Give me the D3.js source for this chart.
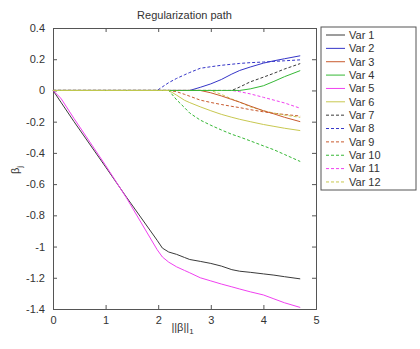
<!DOCTYPE html>
<html>
<head>
<meta charset="utf-8">
<script src="https://cdn.jsdelivr.net/npm/d3@7"></script>
<style>
  body { margin: 0; background: #fff; }
  text { font-family: "Liberation Sans", Arial, sans-serif; fill: #333; }
</style>
</head>
<body>
<div id="chart"></div>
<script>
// Lasso regularization path, coefficients vs ||beta||_1

// ==========================================================
// Data
var knots = [0, 0.15, 0.4, 1.0, 1.4, 1.98, 2.08, 2.2, 2.35, 2.5, 2.6, 2.8, 3.0, 3.2, 3.4, 3.55, 3.75, 4.0, 4.2, 4.4, 4.7];

var var1  = [0, -0.075, -0.2, -0.49, -0.685, -0.96, -1.01, -1.035, -1.05, -1.07, -1.083, -1.095, -1.108, -1.125, -1.148, -1.158, -1.165, -1.175, -1.183, -1.193, -1.207];
var var2  = [0, 0, 0, 0, 0, 0, 0, 0, 0, 0, 0, 0.02, 0.042, 0.07, 0.105, 0.128, 0.15, 0.175, 0.19, 0.203, 0.222];
var var3  = [0, 0, 0, 0, 0, 0, 0, 0, 0, 0, 0, 0, -0.015, -0.035, -0.058, -0.075, -0.1, -0.13, -0.15, -0.172, -0.2];
var var4  = [0, 0, 0, 0, 0, 0, 0, 0, 0, 0, 0, 0, 0, 0, 0, 0, 0.01, 0.03, 0.058, 0.088, 0.127];
var var5  = [0, -0.05, -0.18, -0.48, -0.69, -1.02, -1.067, -1.10, -1.13, -1.153, -1.168, -1.2, -1.22, -1.24, -1.258, -1.272, -1.29, -1.31, -1.335, -1.36, -1.39];
var var6  = [0, 0, 0, 0, 0, 0, 0, 0, -0.03, -0.063, -0.078, -0.105, -0.13, -0.153, -0.172, -0.185, -0.2, -0.218, -0.23, -0.242, -0.257];
var var7  = [0, 0, 0, 0, 0, 0, 0, 0, 0, 0, 0, 0, 0, 0, 0, 0.022, 0.055, 0.085, 0.11, 0.137, 0.172];
var var8  = [0, 0, 0, 0, 0, 0, 0.023, 0.05, 0.077, 0.1, 0.115, 0.142, 0.152, 0.161, 0.168, 0.173, 0.178, 0.182, 0.186, 0.19, 0.196];
var var9  = [0, 0, 0, 0, 0, 0, 0, 0, -0.008, -0.025, -0.037, -0.062, -0.077, -0.09, -0.102, -0.11, -0.123, -0.137, -0.146, -0.154, -0.164];
var var10 = [0, 0, 0, 0, 0, 0, 0, 0, -0.06, -0.11, -0.145, -0.19, -0.223, -0.253, -0.281, -0.298, -0.323, -0.355, -0.38, -0.41, -0.455];
var var11 = [0, 0, 0, 0, 0, 0, 0, 0, 0, 0, 0, 0, 0, 0, 0, -0.008, -0.022, -0.044, -0.062, -0.08, -0.114];
var var12 = [0, 0, 0, 0, 0, 0, 0, 0, 0, 0, 0, 0, 0, -0.025, -0.055, -0.075, -0.105, -0.13, -0.145, -0.158, -0.172];

var seriesNames = ["Var 1", "Var 2", "Var 3", "Var 4", "Var 5", "Var 6", "Var 7", "Var 8", "Var 9", "Var 10", "Var 11", "Var 12"];
var seriesValues = [var1, var2, var3, var4, var5, var6, var7, var8, var9, var10, var11, var12];

var xTicks = [0, 1, 2, 3, 4, 5];
var yTicks = [0.4, 0.2, 0, -0.2, -0.4, -0.6, -0.8, -1, -1.2, -1.4];

// colours cycle like matlab, first six solid then six dashed
var palette = ["#3a3a3a", "#3535c8", "#c85a2e", "#35b835", "#f040f0", "#c8c850"];

// ==========================================================
// Set margins
var svgWidth = 420;
var svgHeight = 349;

var margin = { top: 28, left: 53 };
var width = 263;
var height = 281;

var svg = d3.select("#chart")
  .append("svg")
  .attr("width", svgWidth)
  .attr("height", svgHeight);

var chartGroup = svg.append("g")
  .attr("transform", `translate(${margin.left}, ${margin.top})`);

// scales
var xScale = d3.scaleLinear().domain([0, 5]).range([0, width]);
var yScale = d3.scaleLinear().domain([-1.4, 0.4]).range([height, 0]);

// ===========================================================
// axes with inward ticks on all four sides
var tickFmt = function(d) { return String(+d.toFixed(1)); };

chartGroup.append("g")
  .attr("transform", `translate(0, ${height})`)
  .call(d3.axisBottom(xScale).tickValues(xTicks).tickSize(-4).tickPadding(7).tickFormat(tickFmt));
chartGroup.append("g")
  .call(d3.axisLeft(yScale).tickValues(yTicks).tickSize(-4).tickPadding(8).tickFormat(tickFmt));
chartGroup.append("g")
  .call(d3.axisTop(xScale).tickValues(xTicks).tickSize(-4).tickFormat(""));
chartGroup.append("g")
  .attr("transform", `translate(${width}, 0)`)
  .call(d3.axisRight(yScale).tickValues(yTicks).tickSize(-4).tickFormat(""));

chartGroup.selectAll(".domain").attr("stroke", "#555");
chartGroup.selectAll(".tick line").attr("stroke", "#555");
chartGroup.selectAll(".tick text")
  .style("font-size", "11px")
  .style("fill", "#333");

// ===========================================================
// path lines (dashed ones first so the solid yellow sits on top along zero)
var line = d3.line()
  .x((d, i) => xScale(knots[i]))
  .y(d => yScale(d));

var drawOrder = [6, 7, 8, 9, 10, 11, 0, 1, 2, 3, 4, 5];

chartGroup.selectAll(".path-line")
  .data(drawOrder)
  .enter()
  .append("path")
  .attr("class", "path-line")
  .attr("d", k => line(seriesValues[k]))
  .attr("fill", "none")
  .attr("stroke", k => palette[k % 6])
  .attr("stroke-width", 1)
  .attr("stroke-dasharray", k => k >= 6 ? "3,2" : null);

// ===========================================================
// title and axis labels
svg.append("text")
  .attr("x", margin.left + width / 2)
  .attr("y", 19)
  .attr("text-anchor", "middle")
  .style("font-size", "11px")
  .text("Regularization path");

var xLabel = svg.append("text")
  .attr("x", margin.left + width / 2 - 2)
  .attr("y", 331)
  .attr("text-anchor", "middle")
  .style("font-size", "11px");
xLabel.append("tspan").text("||β||");
xLabel.append("tspan").attr("dy", 3).style("font-size", "8px").text("1");

var yLabel = svg.append("text")
  .attr("transform", "translate(19, 170) rotate(-90)")
  .attr("text-anchor", "middle")
  .style("font-size", "11px");
yLabel.append("tspan").text("β");
yLabel.append("tspan").attr("dy", 3).style("font-size", "8px").text("j");

// ===========================================================
// legend
var legend = svg.append("g")
  .attr("transform", "translate(321, 27)");

legend.append("rect")
  .attr("width", 95)
  .attr("height", 163)
  .attr("fill", "#fff")
  .attr("stroke", "#555");

var legendRows = legend.selectAll(".legend-row")
  .data(seriesNames)
  .enter()
  .append("g")
  .attr("class", "legend-row")
  .attr("transform", (d, i) => `translate(0, ${8 + i * 13.36})`);

legendRows.append("line")
  .attr("x1", 5)
  .attr("x2", 24)
  .attr("stroke", (d, i) => palette[i % 6])
  .attr("stroke-width", 1)
  .attr("stroke-dasharray", (d, i) => i >= 6 ? "3,2" : null);

legendRows.append("text")
  .attr("x", 28)
  .attr("dy", "0.35em")
  .style("font-size", "11px")
  .text(d => d);
</script>
</body>
</html>
